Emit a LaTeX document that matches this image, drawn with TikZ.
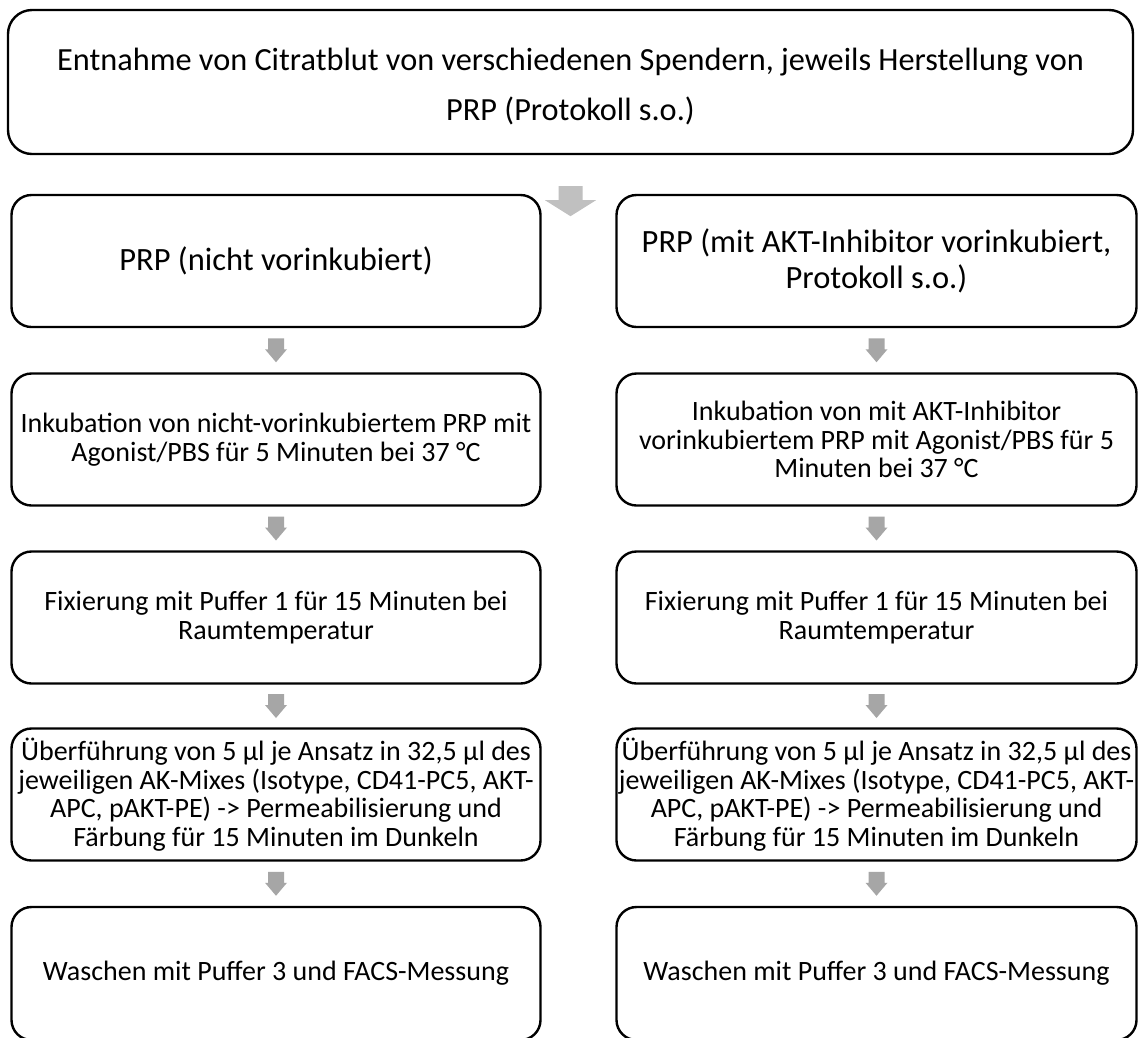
\documentclass[tikz,border=0pt]{standalone}
\usepackage{fontspec}
\setmainfont{Carlito}
\usetikzlibrary{calc}
\definecolor{arrgray}{HTML}{A6A6A6}
\definecolor{toparrgray}{HTML}{C0C0C0}
\tikzset{
  box/.style={draw=black, line width=2.4pt, rounded corners=20pt, align=center,
    inner sep=0pt, fill=white},
  bigtxt/.style={font=\fontsize{32.5}{36}\selectfont},
  smalltxt/.style={font=\fontsize{28}{28.5}\selectfont},
  colbox/.style={box, minimum width=529pt, minimum height=132pt},
  rcolbox/.style={box, minimum width=520pt, minimum height=132pt},
}
\newcommand\smallarrow[2]{%
  \path (#1.south) -- (#2.north) coordinate[pos=0.5] (am);
  \fill[arrgray] ($(am)+(-8,-12)$) -- ($(am)+(8,-12)$) -- ($(am)+(8,-1)$) -- ($(am)+(11,-1)$)
    -- ($(am)+(0,12)$) -- ($(am)+(-11,-1)$) -- ($(am)+(-8,-1)$) -- cycle;
}
\begin{document}
\begin{tikzpicture}[x=1pt, y=-1pt]
\useasboundingbox (0,0) rectangle (1139,1037);
\fill[white] (0,0) rectangle (1139,1037);

% top box
\node[box, rounded corners=24pt, minimum width=1125pt, minimum height=144pt,
  font=\fontsize{32.3}{50}\selectfont] (top) at (570.5,82)
  {\rule{0pt}{31pt}Entnahme von Citratblut von verschiedenen Spendern, jeweils Herstellung von\\PRP (Protokoll s.o.)};

% top arrow
\coordinate (ta) at ($(top.south)+(0,31)$);
\coordinate (tb) at ($(top.south)+(0,61)$);
\fill[toparrgray] ($(ta)+(-12,0)$) -- ($(ta)+(12,0)$) -- ($(ta)+(12,14)$) -- ($(ta)+(25.5,14)$)
  -- (tb) -- ($(ta)+(-25.5,14)$) -- ($(ta)+(-12,14)$) -- cycle;

% left column
\node[colbox, bigtxt] (l1) at (276,261) {PRP (nicht vorinkubiert)};
\node[colbox, smalltxt] (l2) at (276,439.5) {Inkubation von nicht-vorinkubiertem PRP mit\\Agonist/PBS für 5 Minuten bei 37 °C};
\node[colbox, smalltxt] (l3) at (276,617.5) {Fixierung mit Puffer 1 für 15 Minuten bei\\Raumtemperatur};
\node[colbox, smalltxt] (l4) at (276,794.5) {Überführung von 5 µl je Ansatz in 32,5 µl des\\jeweiligen AK-Mixes (Isotype, CD41-PC5, AKT-\\APC, pAKT-PE) -> Permeabilisierung und\\Färbung für 15 Minuten im Dunkeln};
\node[colbox, smalltxt, minimum height=133pt] (l5) at (276,973.5) {Waschen mit Puffer 3 und FACS-Messung};

% right column
\node[rcolbox, bigtxt] (r1) at (876.5,261) {PRP (mit AKT-Inhibitor vorinkubiert,\\Protokoll s.o.)};
\node[rcolbox, smalltxt] (r2) at (876.5,439.5) {Inkubation von mit AKT-Inhibitor\\vorinkubiertem PRP mit Agonist/PBS für 5\\Minuten bei 37 °C};
\node[rcolbox, smalltxt] (r3) at (876.5,617.5) {Fixierung mit Puffer 1 für 15 Minuten bei\\Raumtemperatur};
\node[rcolbox, smalltxt] (r4) at (876.5,794.5) {Überführung von 5 µl je Ansatz in 32,5 µl des\\jeweiligen AK-Mixes (Isotype, CD41-PC5, AKT-\\APC, pAKT-PE) -> Permeabilisierung und\\Färbung für 15 Minuten im Dunkeln};
\node[rcolbox, smalltxt, minimum height=133pt] (r5) at (876.5,973.5) {Waschen mit Puffer 3 und FACS-Messung};

% arrows
\smallarrow{l1}{l2}
\smallarrow{l2}{l3}
\smallarrow{l3}{l4}
\smallarrow{l4}{l5}
\smallarrow{r1}{r2}
\smallarrow{r2}{r3}
\smallarrow{r3}{r4}
\smallarrow{r4}{r5}
\end{tikzpicture}
\end{document}
